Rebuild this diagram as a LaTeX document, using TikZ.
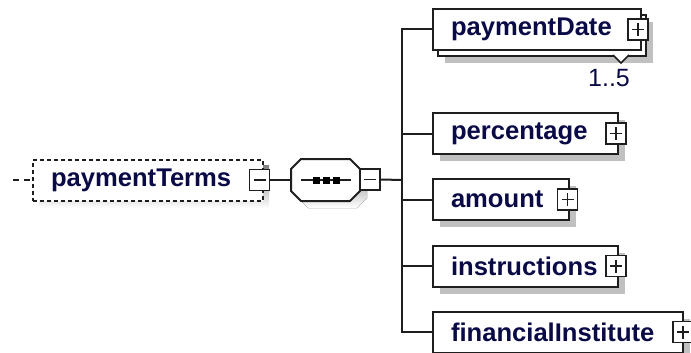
\documentclass[tikz,border=0pt]{standalone}
\usepackage{fontspec}
\setmainfont{Liberation Sans}
\usetikzlibrary{shadows}
\definecolor{navy}{RGB}{10,10,70}
\definecolor{shade}{RGB}{192,192,192}
\definecolor{edge}{RGB}{30,30,30}
\tikzset{
  elem/.style={draw=edge, line width=2pt, fill=white, anchor=west,
    minimum height=41pt, inner ysep=0pt, inner xsep=18pt, align=left,
    font=\fontsize{25.6}{28}\selectfont\bfseries, text=navy},
  shad/.style={drop shadow={shadow xshift=7pt, shadow yshift=-7pt, fill=shade, opacity=1}},
  plusbox/.style={draw=edge, line width=1.8pt, fill=white, minimum width=20pt, minimum height=21pt, inner sep=0pt,
    path picture={\draw[line width=1.8pt,edge] ([xshift=4pt]path picture bounding box.west) -- ([xshift=-4pt]path picture bounding box.east);
                  \draw[line width=1.8pt,edge] ([yshift=-4pt]path picture bounding box.north) -- ([yshift=4pt]path picture bounding box.south);}},
  minusbox/.style={draw=edge, line width=1.8pt, fill=white, minimum width=20pt, minimum height=21pt, inner sep=0pt,
    path picture={\draw[line width=1.8pt,edge] ([xshift=4pt]path picture bounding box.west) -- ([xshift=-4pt]path picture bounding box.east);}},
  conn/.style={draw=edge, line width=2pt},
}
\begin{document}
\begin{tikzpicture}[x=1pt,y=-1pt]
\useasboundingbox (0,0) rectangle (691,353);
% paymentTerms
\fill[shade] (39,165) rectangle (269,208);
\node[elem, dash pattern=on 4pt off 3pt, text width=194pt] (pt) at (32,180) {paymentTerms};
\node[minusbox] (ptm) at (259.5,180) {};
\coordinate (ptin) at (13,180);
\draw[conn, dash pattern=on 6pt off 5pt] (ptin) -- (pt.west);
% sequence compositor
\fill[shade] (308,166) -- (357,166) -- (367,176) -- (367,198) -- (357,208) -- (308,208) -- (298,198) -- (298,176) -- cycle;
\draw[conn, fill=white] (301,159) -- (350,159) -- (360,169) -- (360,191) -- (350,201) -- (301,201) -- (291,191) -- (291,169) -- cycle;
\node[minimum width=69pt, minimum height=42pt, inner sep=0pt] (seq) at (325.5,180) {};
\draw[conn] (301,180) -- (351,180);
\foreach \xx in {316,326,336} \fill[black] (\xx-3.5,176.5) rectangle (\xx+3.5,183.5);
\node[minusbox] (seqm) at (370,179.5) {};
\draw[conn] (ptm.east) -- (seq.west);
\coordinate (bus) at (402,180);
\draw[conn] (seqm.east) -- (bus);
% paymentDate (stacked)
\node[draw=edge, line width=2pt, fill=white, shad, minimum width=208pt, minimum height=41pt, inner sep=0pt, anchor=north west] (pdback) at (437,14) {};
\draw[draw=edge, line width=1.6pt, fill=white] (613,55) -- (621,63) -- (629,55);
\node[elem, text width=172pt] (pd) at (432,29.5) {paymentDate};
\node[plusbox] (pdp) at (638,29.5) {};
\node[font=\fontsize{25}{28}\selectfont, text=navy, inner sep=0pt] (pdocc) at (609,78) {1..5};
% percentage
\node[elem, shad, text width=149pt] (pc) at (432,133.5) {percentage};
\node[plusbox] (pcp) at (616,133.5) {};
% amount
\node[elem, shad, text width=100pt] (am) at (432,199.5) {amount};
\node[plusbox] (amp) at (567.5,199.5) {};
% instructions
\node[elem, shad, text width=149pt] (in) at (432,266) {instructions};
\node[plusbox] (inp) at (616,266) {};
% financialInstitute
\node[elem, shad, text width=214pt] (fi) at (432,332) {financialInstitute};
\node[plusbox] (fip) at (683,332) {};
% bus
\draw[conn] (pd.west) -- (pd.west -| bus) -- (fi.west -| bus) -- (fi.west);
\draw[conn] (pc.west) -- (pc.west -| bus);
\draw[conn] (am.west) -- (am.west -| bus);
\draw[conn] (in.west) -- (in.west -| bus);
\end{tikzpicture}
\end{document}
